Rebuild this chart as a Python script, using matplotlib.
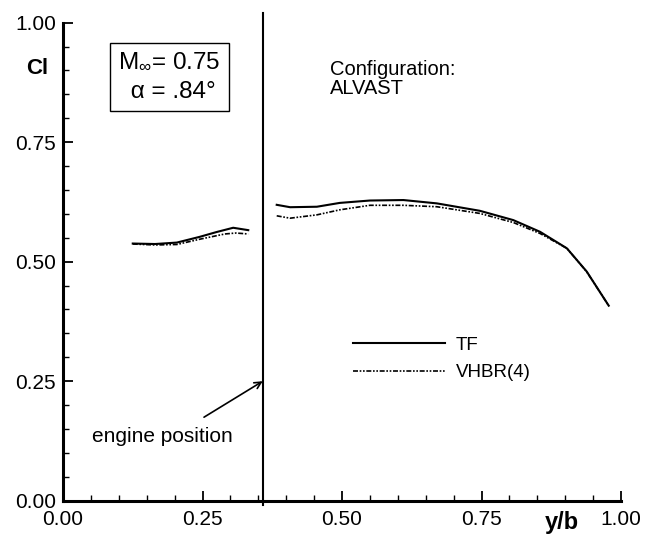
import matplotlib
matplotlib.use("Agg")
import matplotlib.pyplot as plt
from matplotlib.ticker import MultipleLocator, FormatStrFormatter

plt.rcParams['font.family'] = ['Liberation Sans', 'DejaVu Sans']
plt.rcParams['mathtext.fontset'] = 'custom'
plt.rcParams['mathtext.rm'] = 'Liberation Sans'
plt.rcParams['mathtext.it'] = 'Liberation Sans:italic'

# TF (turbofan) - inboard and outboard of engine
tf_in_x = [0.125, 0.165, 0.204, 0.245, 0.275, 0.305, 0.332]
tf_in_y = [0.538, 0.537, 0.540, 0.552, 0.562, 0.571, 0.566]
tf_out_x = [0.383, 0.407, 0.455, 0.496, 0.550, 0.610, 0.670, 0.747, 0.807, 0.855, 0.903, 0.9385, 0.978]
tf_out_y = [0.619, 0.614, 0.615, 0.623, 0.628, 0.629, 0.622, 0.6065, 0.587, 0.5625, 0.528, 0.4795, 0.408]

# VHBR(4)
vh_in_x = [0.125, 0.165, 0.204, 0.245, 0.290, 0.310, 0.332]
vh_in_y = [0.537, 0.535, 0.536, 0.547, 0.558, 0.560, 0.558]
vh_out_x = [0.383, 0.407, 0.455, 0.496, 0.550, 0.610, 0.670, 0.747, 0.807, 0.855, 0.903, 0.9385, 0.978]
vh_out_y = [0.596, 0.591, 0.598, 0.6085, 0.618, 0.618, 0.615, 0.601, 0.582, 0.559, 0.528, 0.479, 0.408]

engine_pos = 0.358
xticks = [0.00, 0.25, 0.50, 0.75, 1.00]
yticks = [0.00, 0.25, 0.50, 0.75, 1.00]

fig = plt.figure(figsize=(6.56, 5.48), dpi=100)
ax = fig.add_axes([63/656, 1-500.7/548, (621-63)/656, (500.7-22.7)/548])

ax.plot(tf_in_x, tf_in_y, color='black', lw=1.5)
ax.plot(tf_out_x, tf_out_y, color='black', lw=1.5, label='TF')
ax.plot(vh_in_x, vh_in_y, color='black', lw=1.2, dashes=[3, 1, 1, 1, 1, 1])
ax.plot(vh_out_x, vh_out_y, color='black', lw=1.2, dashes=[3, 1, 1, 1, 1, 1], label='VHBR(4)')

ax.plot([engine_pos, engine_pos], [-0.01, 1.02], color='black', lw=1.5, clip_on=False)

ax.set_xlim(0, 1)
ax.set_ylim(0, 1)
ax.set_xticks(xticks)
ax.set_yticks(yticks)
ax.xaxis.set_major_formatter(FormatStrFormatter('%.2f'))
ax.yaxis.set_major_formatter(FormatStrFormatter('%.2f'))
ax.xaxis.set_minor_locator(MultipleLocator(0.05))
ax.yaxis.set_minor_locator(MultipleLocator(0.05))
ax.tick_params(which='major', direction='in', length=7, width=1.3, labelsize=15)
ax.tick_params(axis='y', which='major', pad=5)
ax.tick_params(axis='x', which='major', pad=7)
ax.tick_params(which='minor', direction='in', length=4, width=1.0)
ax.spines['top'].set_visible(False)
ax.spines['right'].set_visible(False)
ax.spines['left'].set_linewidth(2.2)
ax.spines['bottom'].set_linewidth(2.2)

ax.text(-0.027, 0.905, 'Cl', transform=ax.transAxes, fontsize=16, fontweight='bold',
        ha='right', va='center')
ax.text(0.894, -0.022, 'y/b', transform=ax.transAxes, fontsize=17, fontweight='bold',
        ha='center', va='top')

ax.text(0.191, 0.887, 'M$_{\\infty}$= 0.75\n α = .84°', fontsize=17.5,
        ha='center', va='center', linespacing=1.45,
        bbox=dict(boxstyle='square,pad=0.33', fc='white', ec='black', lw=1.0))

ax.text(0.4785, 0.922, 'Configuration:\nALVAST', fontsize=14.5, ha='left', va='top',
        linespacing=1.0)

ax.annotate('', xy=(engine_pos, 0.25), xytext=(0.2527, 0.1747),
            arrowprops=dict(arrowstyle='->', lw=1.2, color='black', shrinkA=0, shrinkB=0,
                            mutation_scale=12))
ax.text(0.1774, 0.135, 'engine position', fontsize=15, ha='center', va='center')

leg = ax.legend(loc='upper left', bbox_to_anchor=(0.489, 0.378), frameon=False,
                fontsize=13.5, handlelength=4.9, handletextpad=0.6, labelspacing=0.55)

fig.savefig('out.png', dpi=100)
